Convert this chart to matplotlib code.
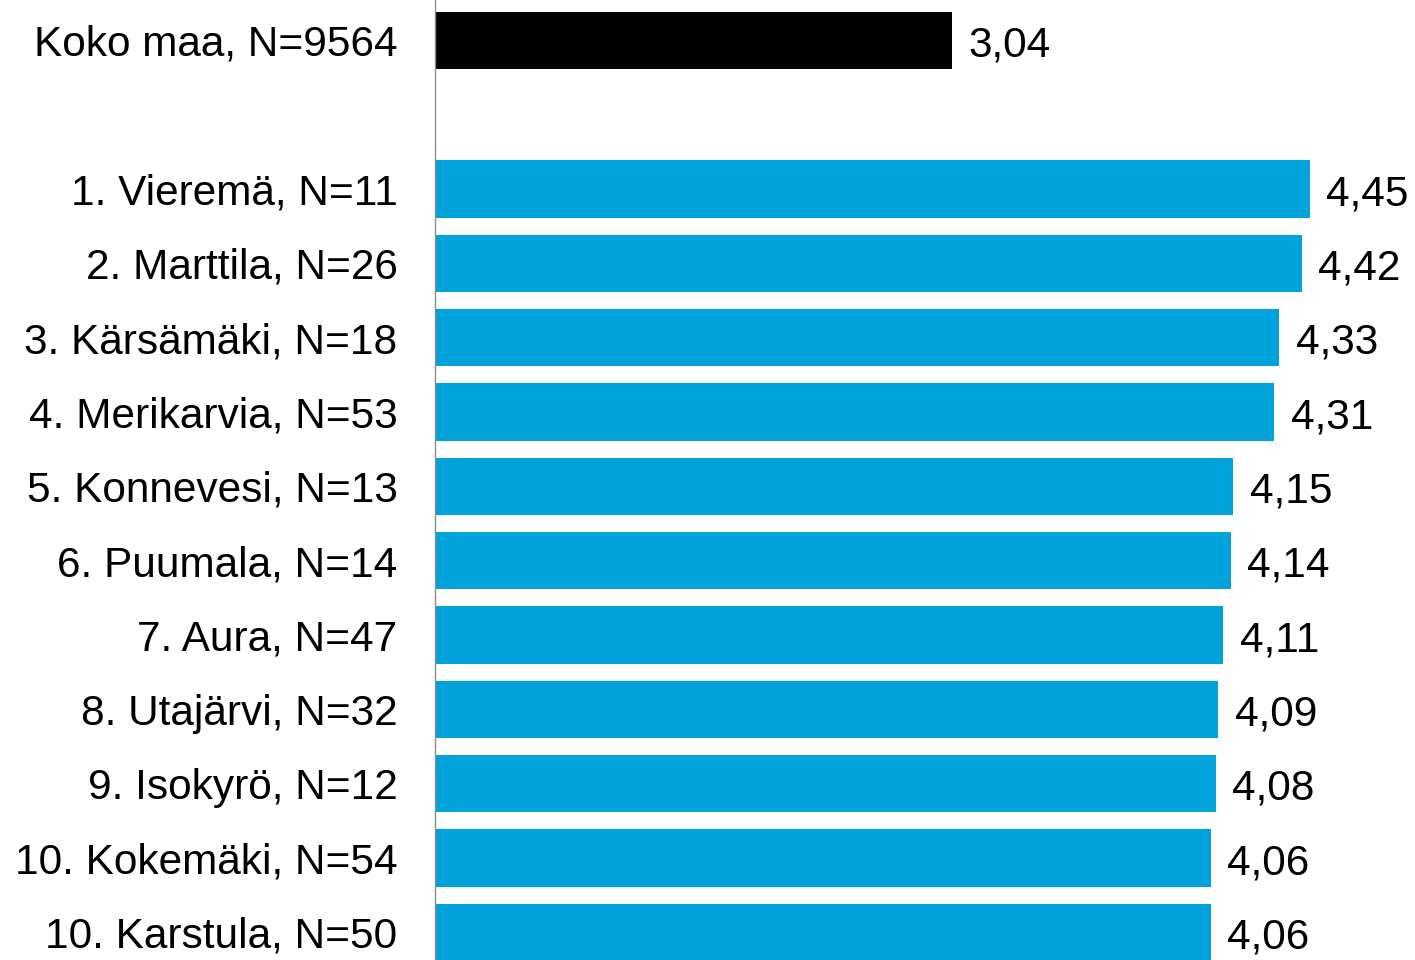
import matplotlib
matplotlib.use("Agg")
import matplotlib.pyplot as plt

plt.rcParams["font.family"] = ["Liberation Sans", "DejaVu Sans"]

# data
labels = ["Koko maa, N=9564", "",
          "1. Vieremä, N=11", "2. Marttila, N=26", "3. Kärsämäki, N=18",
          "4. Merikarvia, N=53", "5. Konnevesi, N=13", "6. Puumala, N=14",
          "7. Aura, N=47", "8. Utajärvi, N=32", "9. Isokyrö, N=12",
          "10. Kokemäki, N=54", "10. Karstula, N=50"]
values = [3.04, None, 4.45, 4.42, 4.33, 4.31, 4.15, 4.14, 4.11, 4.09, 4.08, 4.06, 4.06]
colors = ["#000000", None] + ["#02A3DA"] * 11

fig = plt.figure(figsize=(14.15, 9.6), dpi=100)
ax = fig.add_axes([435 / 1415, 0, 1 - 435 / 1415, 1])

for i, (v, c) in enumerate(zip(values, colors)):
    if v is None:
        continue
    ax.barh(i, v - 1, left=1, height=0.77, color=c)
    ax.text(v + 0.065, i + 0.07, f"{v:.2f}".replace(".", ","),
            va="center", ha="left", fontsize=30.5, color="black")

ax.set_xlim(1, 4.866)
ax.set_ylim(12.37, -0.54)
ax.set_yticks(range(len(labels)))
ax.set_yticklabels(labels, fontsize=30.5)
ax.tick_params(axis="y", length=0, pad=27)
ax.set_xticks([])
for s in ["top", "right", "bottom"]:
    ax.spines[s].set_visible(False)
ax.spines["left"].set_color("#8c8c8c")
ax.spines["left"].set_linewidth(1)

fig.savefig("out.png", dpi=100)
